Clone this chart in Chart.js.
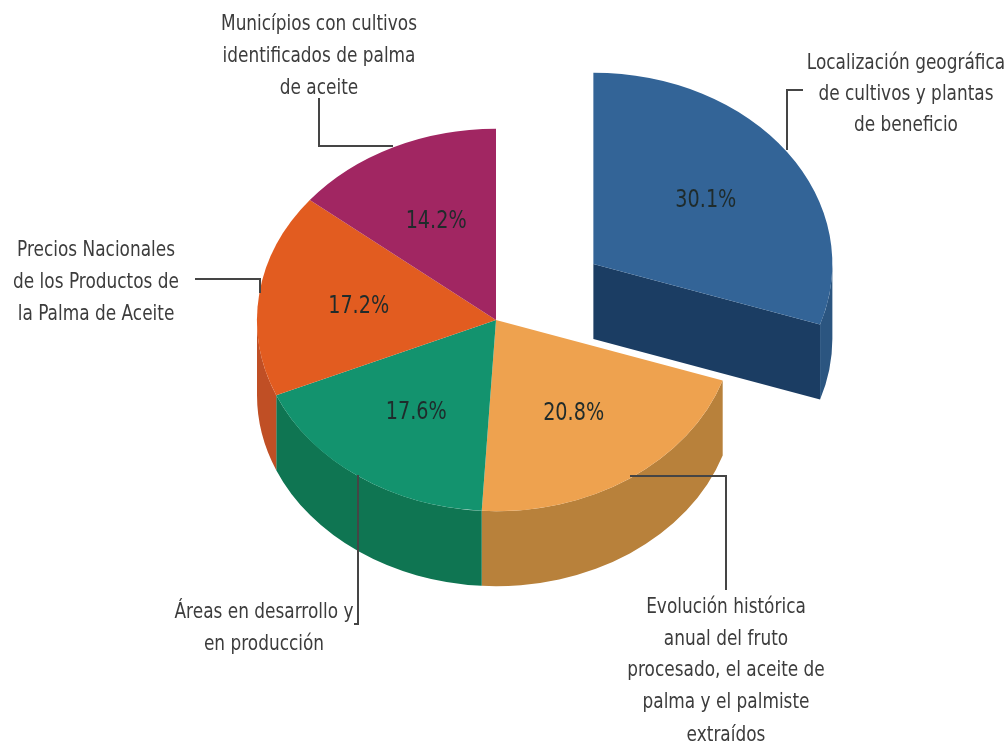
<!DOCTYPE html>
<html><head><meta charset="utf-8">
<style>html,body{margin:0;padding:0;background:#fff}canvas{display:block}</style>
<script src="https://cdn.jsdelivr.net/npm/chart.js@4"></script>
</head><body><canvas id="c" width="1008" height="744"></canvas>
<script>
const categories = [
  "Localización geográfica de cultivos y plantas de beneficio",
  "Evolución histórica anual del fruto procesado, el aceite de palma y el palmiste extraídos",
  "Áreas en desarrollo y en producción",
  "Precios Nacionales de los Productos de la Palma de Aceite",
  "Municípios con cultivos identificados de palma de aceite"
];
const shares = [30.1, 20.8, 17.6, 17.2, 14.2];
const topColors = ["#336497", "#eea24f", "#13936e", "#e25c20", "#a12662"];
const wallColors = ["#2b5580", "#b8813b", "#0f7552", "#c04f25", "#7d1d4c"];
const cutColors = ["#1b3d63", "#b8813b", "#0f7552", "#c04f25", "#7d1d4c"];
const explodeFlags = [1, 0, 0, 0, 0];

const SQUASH = 0.8, DEPTH = 75, EXPLODE = 120, LABEL_R = 0.58;
const FONT = '22px "DejaVu Sans"', PCT_FONT = '24px "DejaVu Sans"';
const XS = 0.77, PCT_XS = 0.8;

const callouts = [
  {lines:["Localización geográfica","de cultivos y plantas","de beneficio"], x:906, y:[61,92,123], path:[[803,90],[787,90],[787,150]]},
  {lines:["Evolución histórica","anual del fruto","procesado, el aceite de","palma y el palmiste","extraídos"], x:726, y:[605,637,668,700,733], path:[[630,476],[726,476],[726,590]]},
  {lines:["Áreas en desarrollo y","en producción"], x:264, y:[610,642], path:[[358,475],[358,624],[354,624]]},
  {lines:["Precios Nacionales","de los Productos de","la Palma de Aceite"], x:96, y:[248,280,312], path:[[195,279],[260,279],[260,293]]},
  {lines:["Municípios con cultivos","identificados de palma","de aceite"], x:319, y:[22,54,86], path:[[319,98],[319,146],[393,146]]}
];

function squeezed(ctx, text, x, y, font, color, xs) {
  ctx.save();
  ctx.font = font; ctx.fillStyle = color;
  ctx.textAlign = "center"; ctx.textBaseline = "middle";
  ctx.translate(x, y + 2); ctx.scale(xs, 1);
  ctx.fillText(text, 0, 0);
  ctx.restore();
}

const pie3d = {
  id: "pie3d",
  beforeDatasetDraw(chart, args) {
    const ctx = chart.ctx, arcs = args.meta.data;
    const d = DEPTH / SQUASH;
    const order = arcs.map((_, i) => i).sort((a, b) => explodeFlags[b] - explodeFlags[a]);
    const place = (arc, i) => {
      const mid = (arc.startAngle + arc.endAngle) / 2;
      const off = explodeFlags[i] ? EXPLODE : 0;
      ctx.translate(arc.x + Math.cos(mid) * off, arc.y + Math.sin(mid) * off * SQUASH);
      ctx.scale(1, SQUASH);
      ctx.translate(-arc.x, -arc.y);
    };
    order.forEach(i => {
      const arc = arcs[i], R = arc.outerRadius;
      ctx.save();
      place(arc, i);
      if (explodeFlags[i]) {
        const ex = arc.x + Math.cos(arc.endAngle) * R, ey = arc.y + Math.sin(arc.endAngle) * R;
        ctx.beginPath();
        ctx.moveTo(arc.x, arc.y); ctx.lineTo(ex, ey);
        ctx.lineTo(ex, ey + d); ctx.lineTo(arc.x, arc.y + d); ctx.closePath();
        ctx.fillStyle = cutColors[i]; ctx.fill();
      }
      const a = arc.startAngle, b = arc.endAngle;
      [[0, Math.PI], [2 * Math.PI, 3 * Math.PI]].forEach(([lo, hi]) => {
        const s = Math.max(a, lo), e = Math.min(b, hi);
        if (e > s) {
          ctx.beginPath();
          ctx.arc(arc.x, arc.y, R, s, e);
          ctx.arc(arc.x, arc.y + d, R, e, s, true);
          ctx.closePath();
          ctx.fillStyle = wallColors[i]; ctx.fill();
        }
      });
      ctx.restore();
    });
    order.forEach(i => {
      ctx.save();
      place(arcs[i], i);
      arcs[i].draw(ctx);
      ctx.restore();
    });
    return false;
  },
  afterDraw(chart) {
    const ctx = chart.ctx, arcs = chart.getDatasetMeta(0).data;
    ctx.save();
    ctx.strokeStyle = "#454545"; ctx.lineWidth = 2; ctx.lineJoin = "miter";
    callouts.forEach(c => {
      ctx.beginPath();
      c.path.forEach((p, k) => k ? ctx.lineTo(p[0], p[1]) : ctx.moveTo(p[0], p[1]));
      ctx.stroke();
      c.lines.forEach((t, k) => squeezed(ctx, t, c.x, c.y[k], FONT, "#3c3c3c", XS));
    });
    arcs.forEach((arc, i) => {
      const mid = (arc.startAngle + arc.endAngle) / 2;
      const off = explodeFlags[i] ? EXPLODE : 0;
      const r = off + arc.outerRadius * LABEL_R;
      squeezed(ctx, shares[i].toFixed(1) + "%",
        arc.x + Math.cos(mid) * r, arc.y + Math.sin(mid) * r * SQUASH, PCT_FONT, "#1f2b2b", PCT_XS);
    });
    ctx.restore();
  }
};

new Chart(document.getElementById("c"), {
  type: "pie",
  data: { labels: categories, datasets: [{ data: shares, backgroundColor: topColors, borderWidth: 0 }] },
  options: {
    responsive: false, animation: false,
    radius: 239,
    layout: { padding: { left: 0, right: 16, top: 0, bottom: 104 } },
    plugins: { legend: { display: false }, tooltip: { enabled: false } }
  },
  plugins: [pie3d]
});
</script></body></html>
